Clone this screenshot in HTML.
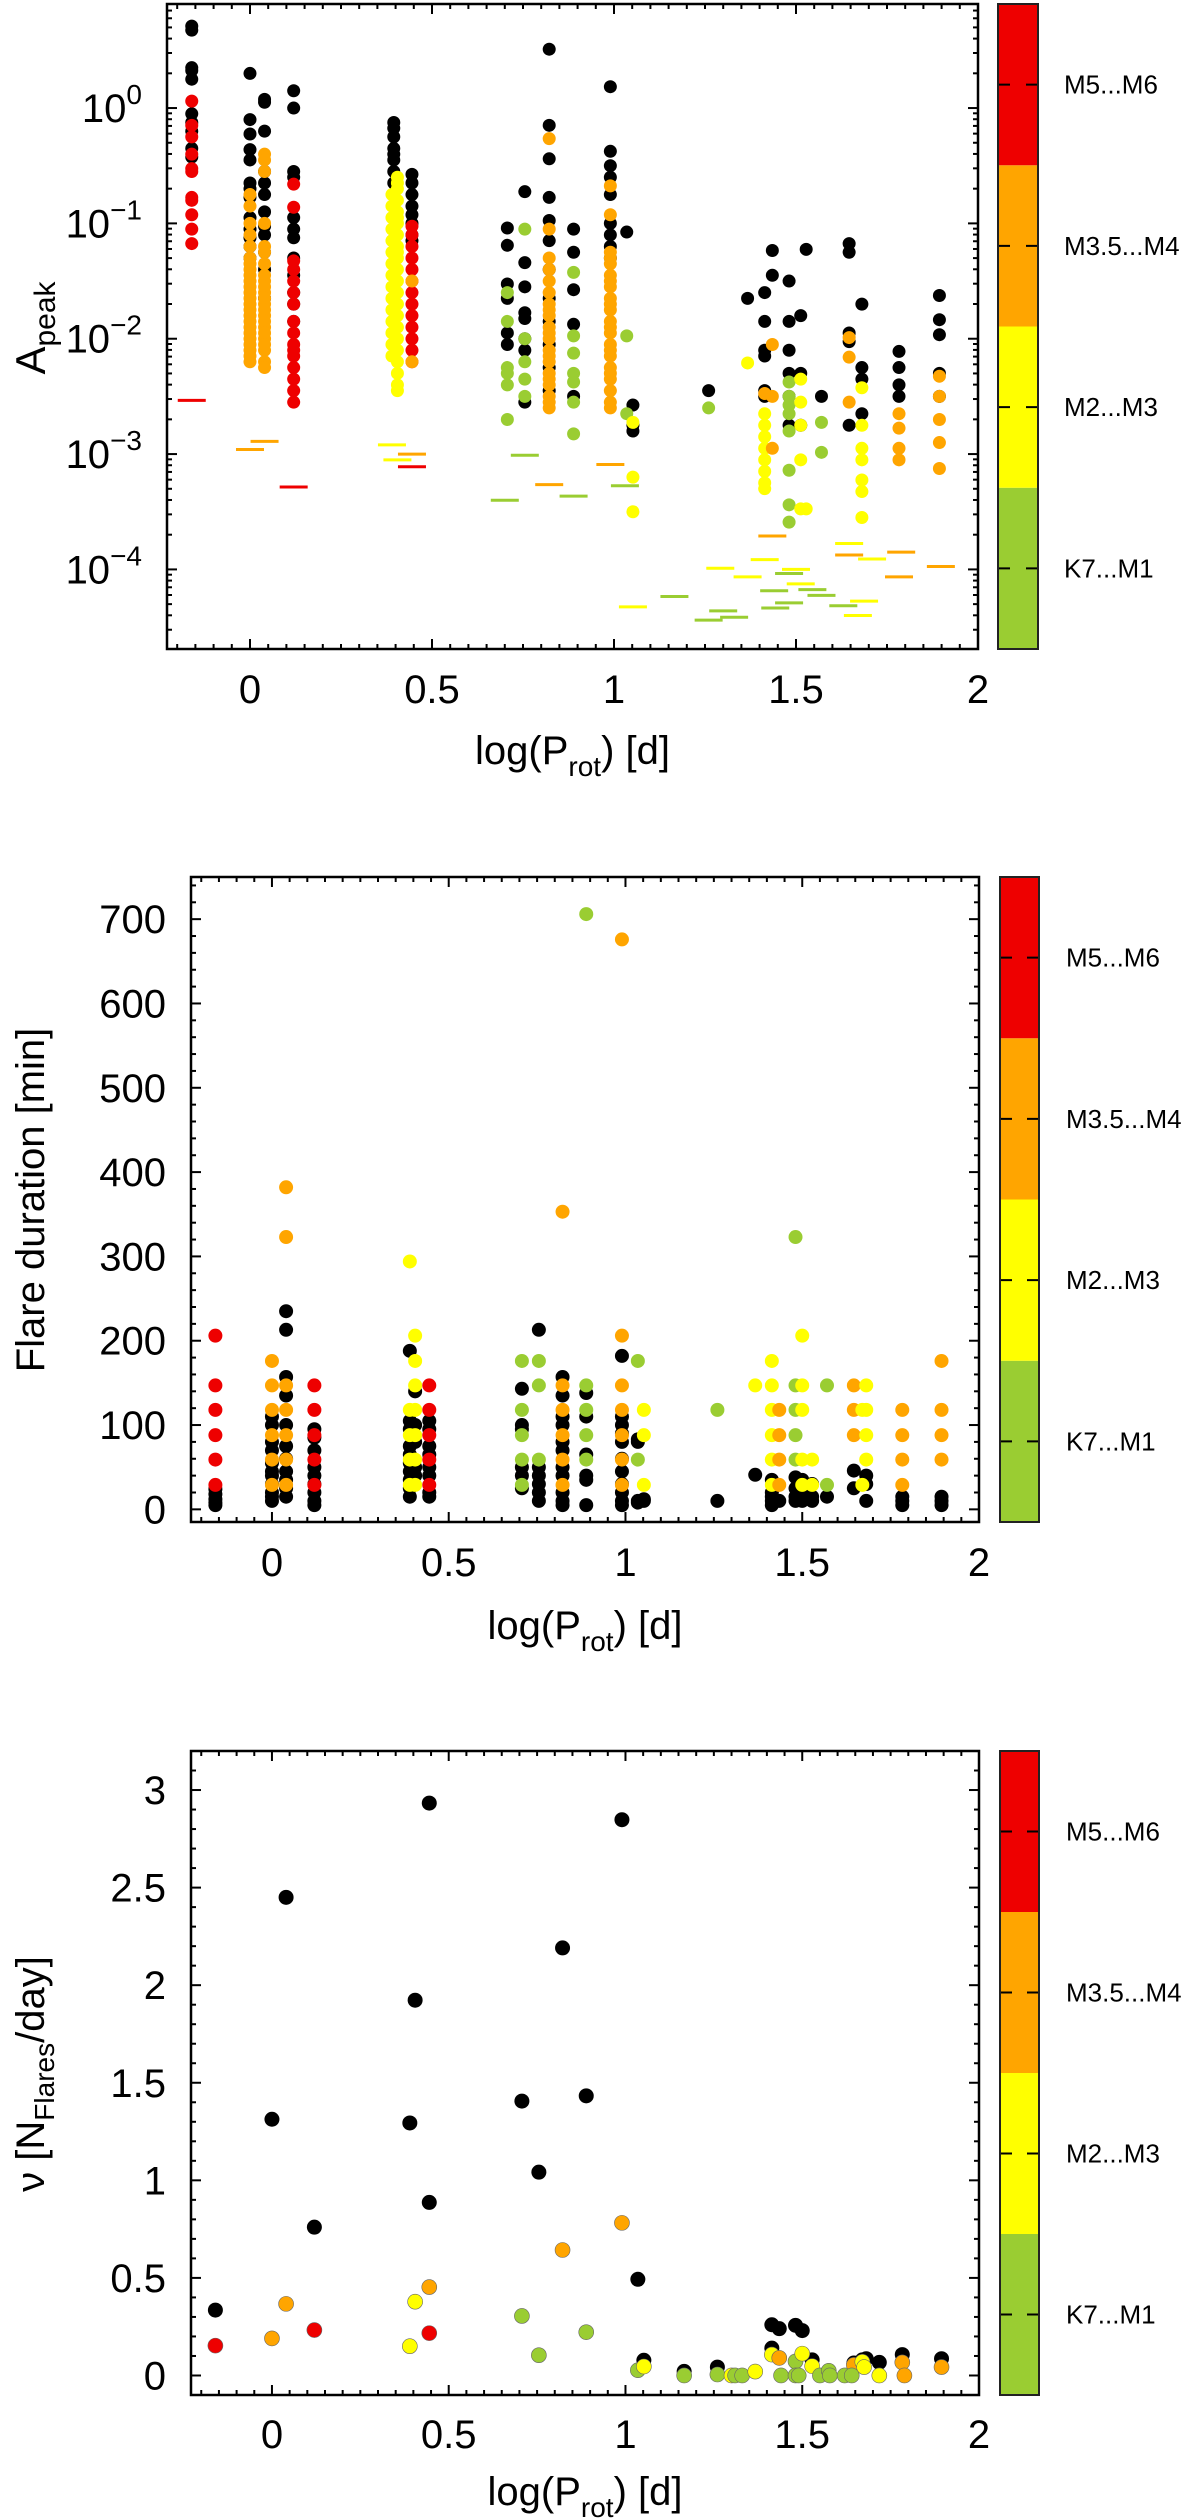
<!DOCTYPE html>
<html><head><meta charset="utf-8"><title>Flare statistics vs rotation period</title>
<style>
html,body{margin:0;padding:0;background:#fff;}
svg{display:block;font-family:"Liberation Sans",Arial,sans-serif;}
</style></head>
<body>
<svg id="fig" xmlns="http://www.w3.org/2000/svg" width="1200" height="2520" viewBox="0 0 1200 2520"></svg>
<script>
// ---------- Panel 1 data (log10 A_peak) ----------
const p1BlackX=[-0.16,0.0,0.04,0.12,0.395,0.445,0.707,0.755,0.822,0.889,0.99,1.035,1.052,1.26,1.367,1.414,1.435,1.481,1.513,1.528,1.57,1.646,1.681,1.783,1.894];
const p1BlackY=[
[0.71,0.675,0.35,0.325,0.25,-0.05,-0.125,-0.2,-0.35,-0.425],
[0.3,-0.1,-0.225,-0.36,-0.45,-0.65,-0.7,-0.775,-0.95,-1.05,-1.125,-1.2,-1.3],
[0.075,0.05,-0.2,-0.55,-0.65,-0.75,-0.9,-1.025,-1.1,-1.25,-1.4,-1.65],
[0.15,0,-0.55,-0.6,-0.95,-1.05,-1.125,-1.3,-1.45,-1.6,-1.7,-1.85],
[-0.125,-0.175,-0.25,-0.35,-0.4,-0.45,-0.55,-0.65,-0.75,-0.85,-0.95,-1.05,-1.15,-1.25,-1.35,-1.45,-1.55,-1.65,-1.75,-1.85,-2.05,-2.15],
[-0.575,-0.65,-0.75,-0.85,-0.925,-1.0,-1.1,-1.15],
[-1.04,-1.19,-1.525,-1.65,-1.95,-2.05],
[-0.725,-1.34,-1.55,-1.775,-1.825,-2.0,-2.1,-2.55],
[0.51,-0.15,-0.44,-0.775,-0.975,-1.15,-1.4,-1.65,-1.85,-2.05,-2.25,-2.45],
[-1.05,-1.25,-1.575,-1.875,-2.5],
[0.185,-0.375,-0.5,-0.6,-0.75,-1.0,-1.1,-1.2,-1.3],
[-1.075],
[-2.575,-2.75,-2.8],
[-2.45],
[-1.65],
[-1.6,-1.85,-2.1,-2.15,-2.45,-2.5],
[-1.235,-1.45],
[-1.5,-1.85,-2.1,-2.3,-2.5,-2.75],
[-1.8,-2.3,-2.75],
[-1.225],
[-2.5],
[-1.175,-1.25,-1.95,-2.025,-2.75],
[-1.7,-2.25,-2.35,-2.65],
[-2.11,-2.25,-2.4,-2.5],
[-1.625,-1.835,-1.965,-2.3,-2.5]];
const p1ColX=[-0.16,0.0,0.04,0.12,0.39,0.405,0.445,0.445,0.707,0.755,0.822,0.889,0.99,1.035,1.052,1.26,1.367,1.414,1.414,1.435,1.481,1.513,1.528,1.57,1.646,1.681,1.783,1.894];
const p1ColCls=['r','o','o','r','y','y','r','o','g','g','o','g','o','g','y','g','y','y','o','o','g','y','y','g','o','y','o','o'];
const p1ColY=[
[0.06,-0.15,-0.25,-0.4,-0.525,-0.55,-0.775,-0.8,-0.925,-1.05,-1.175],
[-0.75,-0.85,-1.0,-1.1,-1.2,-1.3,-1.4,-1.5,-1.6,-1.7,-1.8,-1.9,-2.0,-2.1,-2.2,-1.35,-1.45,-1.55,-1.65,-1.75,-1.85,-1.95,-2.05,-2.15],
[-0.4,-0.45,-0.55,-1.0,-1.2,-1.35,-1.5,-1.6,-1.7,-1.8,-1.9,-2.0,-2.1,-2.2,-2.25,-1.25,-1.45,-1.55,-1.65,-1.75,-1.85,-1.95,-2.05],
[-0.66,-0.86,-1.325,-1.4,-1.5,-1.6,-1.7,-1.85,-1.95,-2.05,-2.1,-2.15,-2.25,-2.35,-2.45,-2.55],
[-0.75,-0.85,-0.95,-1.05,-1.15,-1.25,-1.35,-1.45,-1.55,-1.65,-1.75,-1.85,-1.95,-2.05,-2.15],
[-0.6,-0.7,-0.8,-0.9,-1.0,-1.1,-1.2,-1.3,-1.4,-1.5,-1.6,-1.7,-1.8,-1.9,-2.0,-2.1,-2.2,-2.3,-2.4,-2.45,-0.65,-0.95,-1.25],
[-1.025,-1.1,-1.2,-1.3,-1.4,-1.5,-1.6,-1.7,-1.8,-1.9,-2.0,-2.1,-2.2],
[-1.5,-2.2],
[-1.6,-1.85,-2.25,-2.3,-2.4,-2.7],
[-1.05,-2.0,-2.2,-2.35,-2.5],
[-0.265,-1.05,-1.3,-1.4,-1.5,-1.6,-1.7,-1.8,-1.9,-2.0,-2.1,-2.2,-2.3,-2.4,-2.5,-2.6,-1.75,-1.95,-2.15,-2.35,-2.55],
[-1.425,-1.975,-2.125,-2.3,-2.375,-2.55,-2.825],
[-0.675,-0.925,-1.25,-1.35,-1.45,-1.55,-1.65,-1.75,-1.85,-1.95,-2.05,-2.15,-2.25,-2.35,-2.45,-2.55,-2.6,-1.3,-1.5,-1.7,-1.9,-2.1,-2.3],
[-1.975,-2.65],
[-2.725,-3.2,-3.5],
[-2.6],
[-2.21],
[-2.65,-2.75,-2.85,-2.95,-3.05,-3.15,-3.25,-3.3],
[-2.475],
[-2.05,-2.5,-2.95],
[-2.375,-2.5,-2.575,-2.65,-2.8,-3.14,-3.44,-3.59],
[-2.35,-2.55,-2.75,-3.05,-3.475],
[-3.475],
[-2.725,-2.985],
[-1.99,-2.16,-2.55],
[-2.425,-2.75,-2.95,-3.05,-3.225,-3.325,-3.55],
[-2.65,-2.775,-2.95,-3.05],
[-2.325,-2.5,-2.7,-2.9,-3.125]];
// upper-limit dashes
const p1DashX=[-0.16,0.0,0.04,0.12,0.39,0.405,0.445,0.445,0.755,0.70,0.822,0.889,0.99,1.03,1.052,1.166,1.435,1.646,1.646,1.789,1.709,1.292,1.414,1.898,1.367,1.50,1.481,1.513,1.44,1.545,1.57,1.783,1.687,1.63,1.481,1.443,1.30,1.33,1.26,1.67];
const p1DashY=[-2.535,-2.96,-2.89,-3.285,-2.92,-3.05,-3.0,-3.11,-3.01,-3.4,-3.265,-3.365,-3.09,-3.275,-4.325,-4.235,-3.71,-3.775,-3.875,-3.85,-3.91,-3.99,-3.915,-3.975,-4.065,-4.0,-4.035,-4.125,-4.185,-4.175,-4.225,-4.065,-4.275,-4.315,-4.29,-4.335,-4.36,-4.415,-4.44,-4.4];
const p1DashCls=['r','o','o','r','y','y','o','r','g','g','o','g','o','g','y','g','o','y','o','o','y','y','y','o','y','y','g','y','g','g','g','o','y','g','g','g','g','g','g','y'];
const p1YTicks=[0,-1,-2,-3,-4];
const p1YTickLabels=['0','\u22121','\u22122','\u22123','\u22124'];

// ---------- Panel 2 data (duration, min) ----------
const p2BlackX=[-0.16,0.0,0.04,0.12,0.39,0.405,0.445,0.707,0.755,0.822,0.889,0.99,1.035,1.052,1.26,1.367,1.414,1.435,1.481,1.50,1.528,1.57,1.646,1.681,1.783,1.894];
const p2BlackY=[
[24,18,12,8,5],
[110,100,80,70,55,45,40,30,20,15,10],
[235,213,157,135,100,75,60,45,35,25,15],
[95,85,70,50,40,30,20,10,5],
[188,105,95,75,65,55,45,35,25,15],
[140,100,80,50,40],
[105,95,75,65,50,40,20,15],
[143,100,95,50,40,25],
[213,50,40,30,20,10],
[157,135,110,100,80,70,50,40,20,10,5],
[138,110,65,40,35,5],
[182,110,100,90,80,60,45,30,20,10,5],
[83,80,10,8],
[12,10],
[10],
[41],
[35,20,15,10,5],
[10],
[38,25,15,10],
[35,25,15,10],
[30,15,10],
[15],
[46,25],
[40,30,10],
[15,10,5],
[15,10,5]];
const p2ColX=[-0.16,0.0,0.04,0.12,0.39,0.405,0.445,0.707,0.755,0.822,0.889,0.99,1.035,1.052,1.26,1.367,1.414,1.435,1.481,1.50,1.528,1.57,1.646,1.67,1.681,1.783,1.894];
const p2ColCls=['r','o','o','r','y','y','r','g','g','o','g','o','g','y','g','y','y','o','g','y','y','g','o','y','y','o','o'];
const p2ColY=[
[206,147,118,88,59,29],
[176,147,118,88,59,29],
[382,323,147,118,88,59,29],
[147,118,88,59,29],
[294,118,88,59,29],
[206,176,147,118,88,59,29],
[147,118,88,59,29],
[176,118,88,59,29],
[176,147,59],
[353,147,118,88,59,29],
[706,147,118,88,59],
[676,206,147,118,88,59,29],
[176,59],
[118,88,29],
[118],
[147],
[176,147,118,88,59,29],
[118,88,59,29],
[323,147,118,88,59],
[206,147,118,59,29],
[59,29],
[147,29],
[147,118,88],
[118,29],
[147,118,88,59],
[118,88,59,29],
[176,118,88,59]];
const p2YTicks=[0,100,200,300,400,500,600,700];

// ---------- Panel 3 data (flare frequency per day) ----------
const p3X=[-0.16,-0.16,0.0,0.0,0.04,0.04,0.12,0.12,0.39,0.39,0.405,0.405,0.445,0.445,0.445,0.445,0.707,0.707,0.755,0.755,0.822,0.822,0.889,0.889,0.99,0.99,1.035,1.035,1.052,1.052,1.166,1.166,1.26,1.26,1.30,1.31,1.33,1.367,1.414,1.435,1.414,1.414,1.435,1.481,1.50,1.481,1.50,1.528,1.528,1.44,1.481,1.49,1.55,1.575,1.578,1.646,1.646,1.67,1.681,1.67,1.675,1.62,1.64,1.718,1.718,1.783,1.783,1.789,1.894,1.894];
const p3Y=[0.335,0.153,1.313,0.19,2.45,0.367,0.76,0.233,1.294,0.15,1.923,0.378,2.933,0.887,0.453,0.217,1.406,0.305,1.042,0.104,2.191,0.643,1.433,0.222,2.848,0.782,0.493,0.027,0.078,0.046,0.021,0.0,0.043,0.005,0.0,0.0,0.0,0.02,0.26,0.24,0.14,0.107,0.09,0.257,0.23,0.072,0.112,0.08,0.048,0.0,0.0,0.0,0.0,0.024,0.0,0.064,0.054,0.08,0.086,0.07,0.043,0.0,0.0,0.067,0.0,0.107,0.067,0.0,0.086,0.043];
const p3Cls=['k','r','k','o','k','o','k','r','k','y','k','y','k','k','o','r','k','g','k','g','k','o','k','g','k','o','k','g','k','y','k','g','k','g','y','g','g','y','k','k','k','y','o','k','k','g','y','k','y','g','g','g','g','g','g','k','o','k','k','y','y','g','g','k','y','k','o','o','k','o'];
const p3YTicks=[0,0.5,1,1.5,2,2.5,3];
const p3YTickLabels=['0','0.5','1','1.5','2','2.5','3'];

const xTicks=[0,0.5,1,1.5,2];
const xTickLabels=['0','0.5','1','1.5','2'];
const cbLabels=['K7...M1','M2...M3','M3.5...M4','M5...M6'];
const cbColors=['#9acd32','#ffff00','#ffa500','#ee0000'];
</script>
<script>
const NS='http://www.w3.org/2000/svg';
const svg=document.getElementById('fig');
const COL={k:'#000000',g:'#9acd32',y:'#ffff00',o:'#ffa500',r:'#ee0000'};
function mk(tag,attrs,parent){const e=document.createElementNS(NS,tag);for(const k in attrs)e.setAttribute(k,attrs[k]);(parent||svg).appendChild(e);return e;}
function scale(d0,d1,p0,p1){return v=>p0+(v-d0)*(p1-p0)/(d1-d0);}

const panels=[
 {id:'peak',L:167,R:978,T:4,B:649,xmin:-0.228,xmax:2,ymin:-4.69,ymax:0.902,cbL:998,cbR:1038,xtY:703,xlY:764,r:6.5},
 {id:'duration',L:191,R:979,T:877,B:1522,xmin:-0.229,xmax:2,ymin:-15,ymax:750,cbL:1000,cbR:1039,xtY:1576,xlY:1639,r:7},
 {id:'frequency',L:191,R:979,T:1751,B:2395,xmin:-0.229,xmax:2,ymin:-0.1,ymax:3.2,cbL:1000,cbR:1039,xtY:2448,xlY:2505,r:7.5}
];
panels.forEach(p=>{p.sx=scale(p.xmin,p.xmax,p.L,p.R);p.sy=scale(p.ymin,p.ymax,p.B,p.T);});

function frame(p,g){
  const f=mk('rect',{x:p.L,y:p.T,width:p.R-p.L,height:p.B-p.T,fill:'none',stroke:'#000','stroke-width':2.5},g);
  
  
}
function tick(g,x1,y1,x2,y2,name){const t=mk('line',{x1,y1,x2,y2,stroke:'#000','stroke-width':2},g);
  
  }
function xAxis(p,g){
  for(let v=-0.2;v<=2.0001;v+=0.05){const vv=Math.round(v*100)/100;const x=p.sx(vv);const maj=Math.abs(vv*2-Math.round(vv*2))<1e-6;const L=maj?10:5;
    tick(g,x,p.B,x,p.B-L,'x-tick');tick(g,x,p.T,x,p.T+L,'x-tick-top');}
  xTicks.forEach((v,i)=>{const t=mk('text',{x:p.sx(v),y:p.xtY,'font-size':40,'text-anchor':'middle',fill:'#000'},g);t.textContent=xTickLabels[i];
    
    });
  const xl=mk('text',{x:(p.L+p.R)/2,y:p.xlY,'font-size':40,'text-anchor':'middle',fill:'#000'},g);
  
  
  xl.appendChild(document.createTextNode('log(P'));
  const s=mk('tspan',{'font-size':28,dy:12},xl);s.textContent='rot';
  const s2=mk('tspan',{dy:-12},xl);s2.textContent=') [d]';
}
function yTicksLinear(p,g,step,minor){
  for(let v=0;v<=p.ymax+1e-9;v+=minor){const vv=Math.round(v*1000)/1000;const y=p.sy(vv);const maj=Math.abs(vv/step-Math.round(vv/step))<1e-6;const L=maj?10:5;
    tick(g,p.L,y,p.L+L,y,'y-tick');tick(g,p.R,y,p.R-L,y,'y-tick-right');}
}
function colorbar(p,g){
  const h=(p.B-p.T)/4;
  cbColors.forEach((c,i)=>{const y0=p.B-(i+1)*h;
    const r=mk('rect',{x:p.cbL,y:y0,width:p.cbR-p.cbL,height:h,fill:c},g);
    
    
    const yc=y0+h/2;
    tick(g,p.cbL,yc,p.cbL+12,yc,'colorbar-tick');tick(g,p.cbR-12,yc,p.cbR,yc,'colorbar-tick');
    const t=mk('text',{x:p.cbL+66,y:yc+9,'font-size':26,fill:'#000'},g);t.textContent=cbLabels[i];
    
    });
  const f=mk('rect',{x:p.cbL,y:p.T,width:p.cbR-p.cbL,height:p.B-p.T,fill:'none',stroke:'#222','stroke-width':2},g);
  
  
}
function dot(p,g,x,y,c,name){const e=mk('circle',{cx:p.sx(x),cy:p.sy(y),r:p.r,fill:COL[c]},g);
  
  }
function drawCols(p,g,xs,ys,cls){xs.forEach((x,i)=>{ys[i].forEach(v=>{const c=typeof cls==='string'?cls:cls[i];dot(p,g,x,v,c,'point-'+c);});});}

// ===== Panel 1 =====
(function(){const p=panels[0];const g=mk('g',{});
  
  
  for(let d=-5;d<=0;d++){for(let m=1;m<=9;m++){const lv=d+Math.log10(m);if(lv<p.ymin||lv>p.ymax)continue;const y=p.sy(lv);const L=m===1?10:5;
    tick(g,p.L,y,p.L+L,y,'y-tick');tick(g,p.R,y,p.R-L,y,'y-tick-right');}}
  p1YTicks.forEach((v,i)=>{const t=mk('text',{x:142,y:p.sy(v)+14,'font-size':40,'text-anchor':'end',fill:'#000'},g);
    
    
    t.appendChild(document.createTextNode('10'));const s=mk('tspan',{'font-size':28,dy:-18},t);s.textContent=p1YTickLabels[i];});
  xAxis(p,g);
  drawCols(p,g,p1BlackX,p1BlackY,'k');
  drawCols(p,g,p1ColX,p1ColY,p1ColCls);
  p1DashX.forEach((x,i)=>{const cx=p.sx(x),cy=p.sy(p1DashY[i]);const l=mk('line',{x1:cx-14,y1:cy,x2:cx+14,y2:cy,stroke:COL[p1DashCls[i]],'stroke-width':3},g);
    
    });
  frame(p,g);colorbar(p,g);
  const yl=mk('text',{transform:'translate(45,328) rotate(-90)','font-size':42,'text-anchor':'middle',fill:'#000'},g);
  
  
  yl.appendChild(document.createTextNode('A'));const s=mk('tspan',{'font-size':30,dy:10},yl);s.textContent='peak';
})();

// ===== Panel 2 =====
(function(){const p=panels[1];const g=mk('g',{});
  
  
  yTicksLinear(p,g,100,20);
  p2YTicks.forEach(v=>{const t=mk('text',{x:166,y:p.sy(v)+14,'font-size':40,'text-anchor':'end',fill:'#000'},g);t.textContent=String(v);
    
    });
  xAxis(p,g);
  drawCols(p,g,p2BlackX,p2BlackY,'k');
  drawCols(p,g,p2ColX,p2ColY,p2ColCls);
  frame(p,g);colorbar(p,g);
  const yl=mk('text',{transform:'translate(44,1200) rotate(-90)','font-size':40,'text-anchor':'middle',fill:'#000'},g);
  
  
  yl.textContent='Flare duration [min]';
})();

// ===== Panel 3 =====
(function(){const p=panels[2];const g=mk('g',{});
  
  
  yTicksLinear(p,g,0.5,0.1);
  p3YTicks.forEach((v,i)=>{const t=mk('text',{x:166,y:p.sy(v)+14,'font-size':40,'text-anchor':'end',fill:'#000'},g);t.textContent=p3YTickLabels[i];
    
    });
  xAxis(p,g);
  p3X.forEach((x,i)=>{if(p3Cls[i]==='k')dot(p,g,x,p3Y[i],'k','point-k');});
  p3X.forEach((x,i)=>{if(p3Cls[i]!=='k'){const e=mk('circle',{cx:p.sx(x),cy:p.sy(p3Y[i]),r:p.r,fill:COL[p3Cls[i]],stroke:'#666','stroke-width':0.6},g);
    
    }});
  frame(p,g);colorbar(p,g);
  const yl=mk('text',{transform:'translate(44,2074) rotate(-90)','font-size':40,'text-anchor':'middle',fill:'#000'},g);
  
  
  yl.appendChild(document.createTextNode('\u03bd [N'));const s=mk('tspan',{'font-size':28,dy:10},yl);s.textContent='Flares';
  const s2=mk('tspan',{dy:-10},yl);s2.textContent='/day]';
})();
</script>
</body></html>
